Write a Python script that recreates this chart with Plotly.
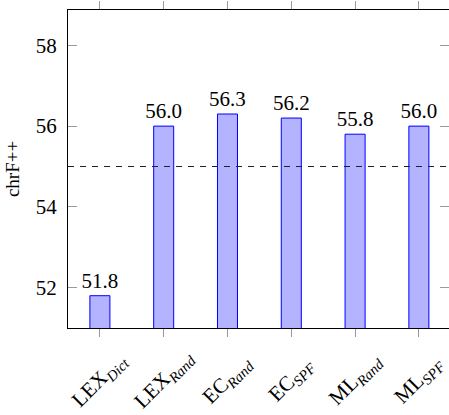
import plotly.graph_objects as go

# chrF++ scores per system
systems = ["LEX", "LEX", "EC", "EC", "ML", "ML"]
variants = ["Dict", "Rand", "Rand", "SPF", "Rand", "SPF"]
scores = [51.8, 56.0, 56.3, 56.2, 55.8, 56.0]
baseline = 55.0

y_ticks = [52, 54, 56, 58]
y_range = [51.0, 58.876]
x_range = [-0.5, 5.472]

SERIF = "Liberation Serif"
TICK_GREY = "#9a9a9a"

positions = list(range(len(scores)))
labels = [f"{s}<sub><i>{v}</i></sub>" for s, v in zip(systems, variants)]

fig = go.Figure()
fig.add_trace(go.Bar(
    x=positions,
    y=scores,
    width=0.314,
    marker=dict(color="#b3b3ff", line=dict(color="#0000ff", width=1)),
    texttemplate="%{y:.1f}",
    textposition="outside",
    constraintext="none",
    cliponaxis=False,
    textfont=dict(family=SERIF, size=21, color="black"),
    showlegend=False,
))

# dashed reference level
fig.add_shape(type="line", xref="paper", x0=0, x1=1, yref="y", y0=baseline, y1=baseline,
              line=dict(color="#222222", width=1, dash="6px,6px"), layer="above")

# rotated category labels centred under each tick
for p, lab in zip(positions, labels):
    fig.add_annotation(x=p, xref="x", y=0, yref="paper", text=lab, textangle=-45,
                       xanchor="center", yanchor="middle", yshift=-52, showarrow=False,
                       font=dict(family=SERIF, size=21, color="black"))

fig.update_layout(
    width=449, height=415,
    margin=dict(l=68, r=0, t=10, b=87),
    paper_bgcolor="white", plot_bgcolor="white",
    font=dict(family=SERIF, color="black"),
    xaxis=dict(range=x_range, tickvals=positions, showticklabels=False,
               ticks="outside", ticklen=8, tickcolor=TICK_GREY, tickwidth=1,
               showline=True, linecolor="black", linewidth=1, mirror="ticks",
               showgrid=False, zeroline=False, fixedrange=True),
    yaxis=dict(range=y_range, tickvals=y_ticks, ticks="inside", ticklen=9,
               tickcolor=TICK_GREY, tickwidth=1, showline=True, linecolor="black",
               linewidth=1, mirror="ticks", showgrid=False, zeroline=False,
               ticklabelstandoff=6,
               tickfont=dict(family=SERIF, size=21, color="black"),
               title=dict(text="chrF++", font=dict(family=SERIF, size=19, color="black"),
                          standoff=11)),
)

fig.write_html("out.html")
